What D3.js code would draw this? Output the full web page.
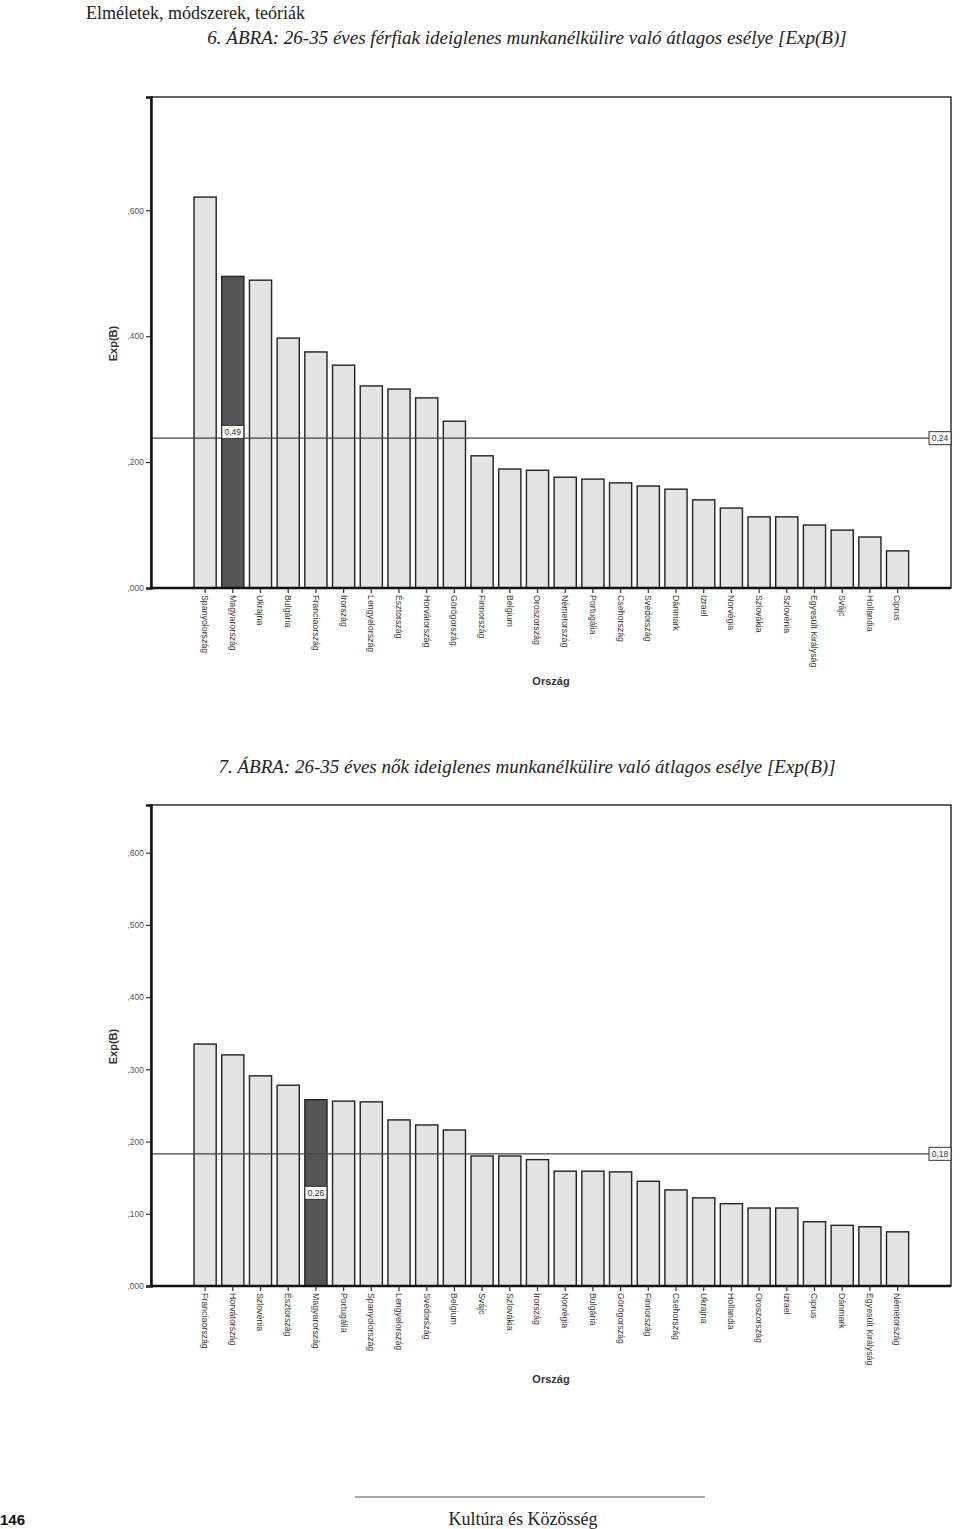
<!DOCTYPE html>
<html>
<head>
<meta charset="utf-8">
<script src="https://cdn.jsdelivr.net/npm/d3@7"></script>
<style>
  html, body { margin: 0; padding: 0; background: #fff; }
  svg { display: block; }
</style>
</head>
<body>
<svg id="page" width="960" height="1529"></svg>
<script>
// ---------- DATA ----------
const menCountries = ["Spanyolország","Magyarország","Ukrajna","Bulgária","Franciaország","Írország","Lengyelország","Észtország","Horvátország","Görögország","Finnország","Belgium","Oroszország","Németország","Portugália","Csehország","Svédország","Dánmark","Izrael","Norvégia","Szlovákia","Szlovénia","Egyesült Királyság","Svájc","Hollandia","Ciprus"];
const menValues = [0.621,0.495,0.489,0.397,0.375,0.354,0.321,0.316,0.302,0.265,0.210,0.189,0.187,0.176,0.173,0.167,0.162,0.157,0.140,0.127,0.113,0.113,0.100,0.092,0.081,0.059];
const menMean = 0.238;
const menMeanLabel = "0,24";
const menHighlight = "Magyarország";
const menHighlightLabel = "0,49";
const menTicks = [0, 0.2, 0.4, 0.6];

const womenCountries = ["Franciaország","Horvátország","Szlovénia","Észtország","Magyarország","Portugália","Spanyolország","Lengyelország","Svédország","Belgium","Svájc","Szlovákia","Írország","Norvégia","Bulgária","Görögország","Finnország","Csehország","Ukrajna","Hollandia","Oroszország","Izrael","Ciprus","Dánmark","Egyesült Királyság","Németország"];
const womenValues = [0.335,0.320,0.291,0.278,0.258,0.256,0.255,0.230,0.223,0.216,0.180,0.180,0.175,0.159,0.159,0.158,0.145,0.133,0.122,0.114,0.108,0.108,0.089,0.084,0.082,0.075];
const womenMean = 0.183;
const womenMeanLabel = "0,18";
const womenHighlight = "Magyarország";
const womenHighlightLabel = "0,26";
const womenTicks = [0, 0.1, 0.2, 0.3, 0.4, 0.5, 0.6];

const headerText = "Elméletek, módszerek, teóriák";
const title1 = "6. ÁBRA: 26-35 éves férfiak ideiglenes munkanélkülire való átlagos esélye [Exp(B)]";
const title2 = "7. ÁBRA: 26-35 éves nők ideiglenes munkanélkülire való átlagos esélye [Exp(B)]";
const xTitle = "Ország";
const yTitle = "Exp(B)";
const pageNumber = "146";
const footerText = "Kultúra és Közösség";

// ---------- DRAW ----------
const svg = d3.select("#page");
const serif = "'Liberation Serif', 'DejaVu Serif', serif";
const sans = "'Liberation Sans', Arial, sans-serif";

svg.append("text").attr("x", 86).attr("y", 19)
  .attr("font-family", serif).attr("font-size", 18).attr("fill", "#222")
  .text(headerText);

function fmt(v) { return d3.format(".3f")(v).replace("0.", ","); }

function drawChart(opt) {
  const { countries, values, mean, meanLabel, highlight, highlightLabel, ticks,
          top, bottom, yMax, title, titleY, hlLabelValue } = opt;
  const left = 151, right = 951;
  const g = svg.append("g");

  g.append("text").attr("x", 527).attr("y", titleY)
    .attr("text-anchor", "middle").attr("font-family", serif)
    .attr("font-style", "italic").attr("font-size", 19).attr("fill", "#222")
    .text(title);

  const x = d3.scaleBand().domain(countries).range([188.5, 914.2]).padding(0.2);
  const y = d3.scaleLinear().domain([0, yMax]).range([bottom, top]);

  // frame
  g.append("rect").attr("x", left).attr("y", top)
    .attr("width", right - left).attr("height", bottom - top)
    .attr("fill", "none").attr("stroke", "#111").attr("stroke-width", 1.3);

  // bars
  const data = countries.map((c, i) => ({ c, v: values[i] }));
  g.selectAll("rect.bar").data(data).join("rect")
    .attr("class", "bar")
    .attr("x", d => x(d.c))
    .attr("y", d => y(d.v))
    .attr("width", x.bandwidth())
    .attr("height", d => y(0) - y(d.v))
    .attr("fill", d => d.c === highlight ? "#555555" : "#e3e3e3")
    .attr("stroke", "#222").attr("stroke-width", 1.4);

  // mean line
  g.append("line").attr("x1", left).attr("x2", right)
    .attr("y1", y(mean)).attr("y2", y(mean))
    .attr("stroke", "#444").attr("stroke-width", 1.3);

  function labelBox(cx, cy, txt) {
    const w = 22, h = 13;
    g.append("rect").attr("x", cx - w / 2).attr("y", cy - h / 2)
      .attr("width", w).attr("height", h)
      .attr("fill", "#fff").attr("stroke", "#333").attr("stroke-width", 1);
    g.append("text").attr("x", cx).attr("y", cy + 3)
      .attr("text-anchor", "middle").attr("font-family", sans)
      .attr("font-size", 8.5).attr("fill", "#333").text(txt);
  }
  labelBox(940, y(mean), meanLabel);
  labelBox(x(highlight) + x.bandwidth() / 2, y(hlLabelValue), highlightLabel);

  // y axis
  const ya = g.append("g").attr("transform", `translate(${left},0)`)
    .call(d3.axisLeft(y).tickValues(ticks).tickSize(5).tickPadding(2).tickFormat(fmt));
  ya.select(".domain").attr("stroke", "#111").attr("stroke-width", 2.5);
  ya.selectAll(".tick line").attr("stroke", "#333").attr("stroke-width", 1.2);
  ya.selectAll(".tick text").attr("font-family", sans).attr("font-size", 8.5)
    .attr("fill", "#555");

  // x axis
  const xa = g.append("g").attr("transform", `translate(0,${bottom})`)
    .call(d3.axisBottom(x).tickSize(5).tickSizeOuter(0));
  xa.select(".domain").attr("stroke", "#111").attr("stroke-width", 2.5)
    .attr("d", `M${left},0H${right}`);
  xa.selectAll(".tick line").attr("stroke", "#333").attr("stroke-width", 1.2);
  xa.selectAll(".tick text")
    .attr("transform", "rotate(90)")
    .attr("x", 7).attr("y", 0).attr("dy", "0.35em")
    .style("text-anchor", "start")
    .attr("font-family", sans).attr("font-size", 8.8).attr("fill", "#3a3a3a");

  // axis titles
  g.append("text").attr("x", 551).attr("y", bottom + 97)
    .attr("text-anchor", "middle").attr("font-family", sans)
    .attr("font-weight", "bold").attr("font-size", 11).attr("fill", "#333")
    .text(xTitle);
  g.append("text")
    .attr("transform", `translate(117,${(top + bottom) / 2 + 1}) rotate(-90)`)
    .attr("text-anchor", "middle").attr("font-family", sans)
    .attr("font-weight", "bold").attr("font-size", 11).attr("fill", "#333")
    .text(yTitle);
}

drawChart({
  countries: menCountries, values: menValues, mean: menMean, meanLabel: menMeanLabel,
  highlight: menHighlight, highlightLabel: menHighlightLabel, ticks: menTicks,
  top: 97, bottom: 588, yMax: 0.78, title: title1, titleY: 44, hlLabelValue: 0.248
});
drawChart({
  countries: womenCountries, values: womenValues, mean: womenMean, meanLabel: womenMeanLabel,
  highlight: womenHighlight, highlightLabel: womenHighlightLabel, ticks: womenTicks,
  top: 805, bottom: 1286, yMax: 0.666, title: title2, titleY: 773, hlLabelValue: 0.129
});

// footer
svg.append("line").attr("x1", 355).attr("x2", 705).attr("y1", 1497).attr("y2", 1497)
  .attr("stroke", "#555").attr("stroke-width", 1);
svg.append("text").attr("x", 0).attr("y", 1525)
  .attr("font-family", "'Liberation Sans Narrow', 'Liberation Sans', sans-serif")
  .attr("font-weight", "bold").attr("font-size", 15).attr("fill", "#111")
  .text(pageNumber);
svg.append("text").attr("x", 523).attr("y", 1525).attr("text-anchor", "middle")
  .attr("font-family", serif).attr("font-size", 18).attr("fill", "#222")
  .text(footerText);
</script>
</body>
</html>
